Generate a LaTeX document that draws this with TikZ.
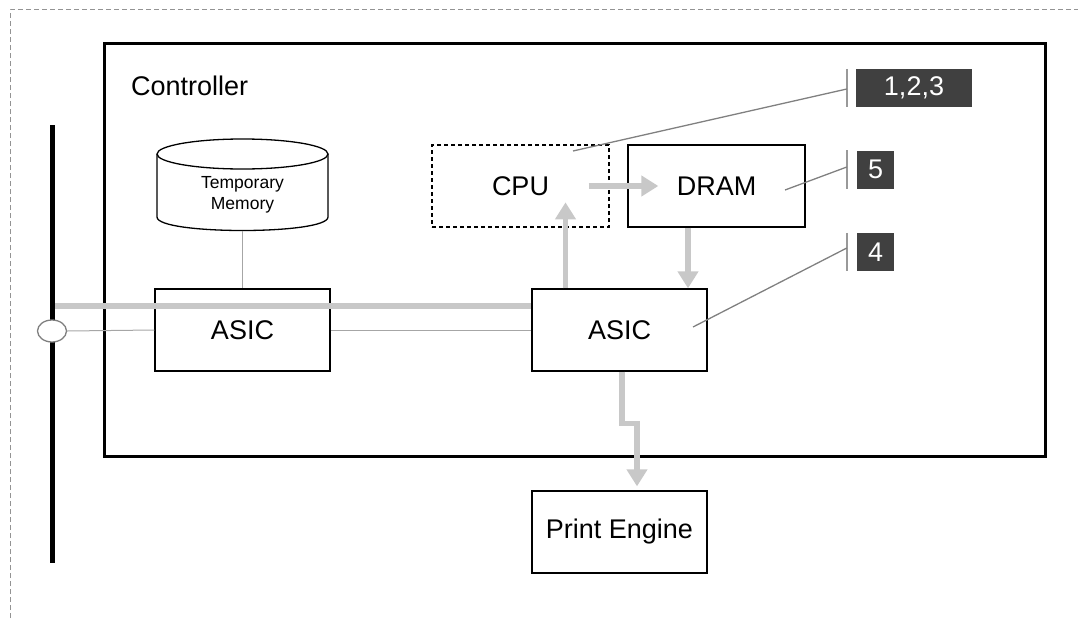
\documentclass[tikz,border=0pt]{standalone}
\usepackage{fontspec}
\setmainfont{Liberation Sans}
\usetikzlibrary{arrows.meta,shapes.geometric,calc}
\definecolor{lgray}{HTML}{C8C8C8}
\definecolor{tgray}{HTML}{A6A6A6}
\definecolor{dgray}{HTML}{808080}
\definecolor{tagfill}{HTML}{404040}
\begin{document}
\begin{tikzpicture}[x=1pt,y=-1pt,
  bigtext/.style={font=\fontsize{27}{30}\selectfont},
  box/.style={draw=black, line width=1.3, minimum width=175, minimum height=82, inner sep=0, bigtext},
  dbox/.style={box, dash pattern=on 4 off 3},
  tag/.style={fill=tagfill, text=white, inner sep=0, minimum height=38, bigtext},
  garrow/.style={draw=lgray, line width=5.5, line join=miter, -{Triangle[width=20,length=17]}},
  thickbus/.style={draw=lgray, line width=5.5},
  thinwire/.style={draw=tgray, line width=1},
  leader/.style={draw=dgray, line width=1.3},
  ticker/.style={draw=dgray!80, line width=1.5}
]
\useasboundingbox (0,0) rectangle (1078,618);
% outer dashed frame
\coordinate (fbl) at (10,618);
\coordinate (ftl) at (10,10);
\coordinate (ftr) at (1078,10);
\draw[dgray!85, line width=1, dash pattern=on 5 off 3] (fbl) -- (ftl) -- (ftr);
% controller
\node[draw=black, line width=3, minimum width=941, minimum height=412, inner sep=0] (ctrl) at (574.5,250) {};
\node[anchor=base west, inner sep=0, bigtext] (ctrltxt) at (131,95) {Controller};
% boxes
\node[box] (asic1) at (242.5,330) {ASIC};
\node[box] (asic2) at (619.5,330) {ASIC};
\node[dbox, minimum width=177] (cpu) at (520.5,186) {CPU};
\node[box, minimum width=177] (dram) at (716.5,186) {DRAM};
\node[box] (pe) at (619.5,532) {Print Engine};
% temporary memory cylinder
\draw[line width=1.3, fill=white] (157,154) -- (157,217) .. controls (157,235) and (328,235) .. (328,217) -- (328,154);
\draw[line width=1.3] (242.5,154) ellipse [x radius=85.5, y radius=15];
\node[align=center, font=\fontsize{17.5}{20.5}\selectfont] (tmem) at (242.5,195) {Temporary\\Memory};
\coordinate (tmembot) at (242.5,230.5);
\draw[thinwire] (tmembot) -- (asic1.north);
% bus
\coordinate (bustop) at (52,125);
\coordinate (busbot) at (52,563);
\coordinate (busjoin) at (52,306);
\draw[thickbus] (busjoin) -- (busjoin -| asic2.west);
\draw[line width=5, black] (bustop) -- (busbot);
\node[ellipse, draw=dgray, line width=1.3, fill=white, minimum width=29, minimum height=22, inner sep=0] (port) at (52,331) {};
\draw[thinwire] (port.east) -- (asic1.west);
\draw[thinwire] (asic1.east) -- (asic2.west);
% arrows
\draw[garrow] ([xshift=-21]cpu.east) -- ([xshift=31]dram.west);
\draw[garrow] ([xshift=-54]asic2.north) -- ++(0,-86);
\draw[garrow] ([xshift=-28.5]dram.south) -- ([xshift=-28.5]dram.south |- asic2.north);
\draw[garrow] ([xshift=2.5]asic2.south) -- ++(0,52) -| ([xshift=17.5,yshift=4]pe.north);
% tags
\node[tag, minimum width=116] (l123) at (914,88) {1,2,3};
\node[tag, minimum width=37] (l5) at (875.5,169.5) {5};
\node[tag, minimum width=37] (l4) at (875.5,252) {4};
\draw[ticker] ([xshift=-9]l123.north west) -- ([xshift=-9]l123.south west);
\draw[ticker] ([xshift=-10]l5.north west) -- ([xshift=-10]l5.south west);
\draw[ticker] ([xshift=-10]l4.north west) -- ([xshift=-10]l4.south west);
\coordinate (p123) at (573,151);
\coordinate (p5) at (785,190);
\coordinate (p4) at (693,327);
\draw[leader] ([xshift=-9,yshift=-1]l123.west) -- (p123);
\draw[leader] ([xshift=-10,yshift=2.5]l5.west) -- (p5);
\draw[leader] ([xshift=-10,yshift=4]l4.west) -- (p4);
\end{tikzpicture}
\end{document}
